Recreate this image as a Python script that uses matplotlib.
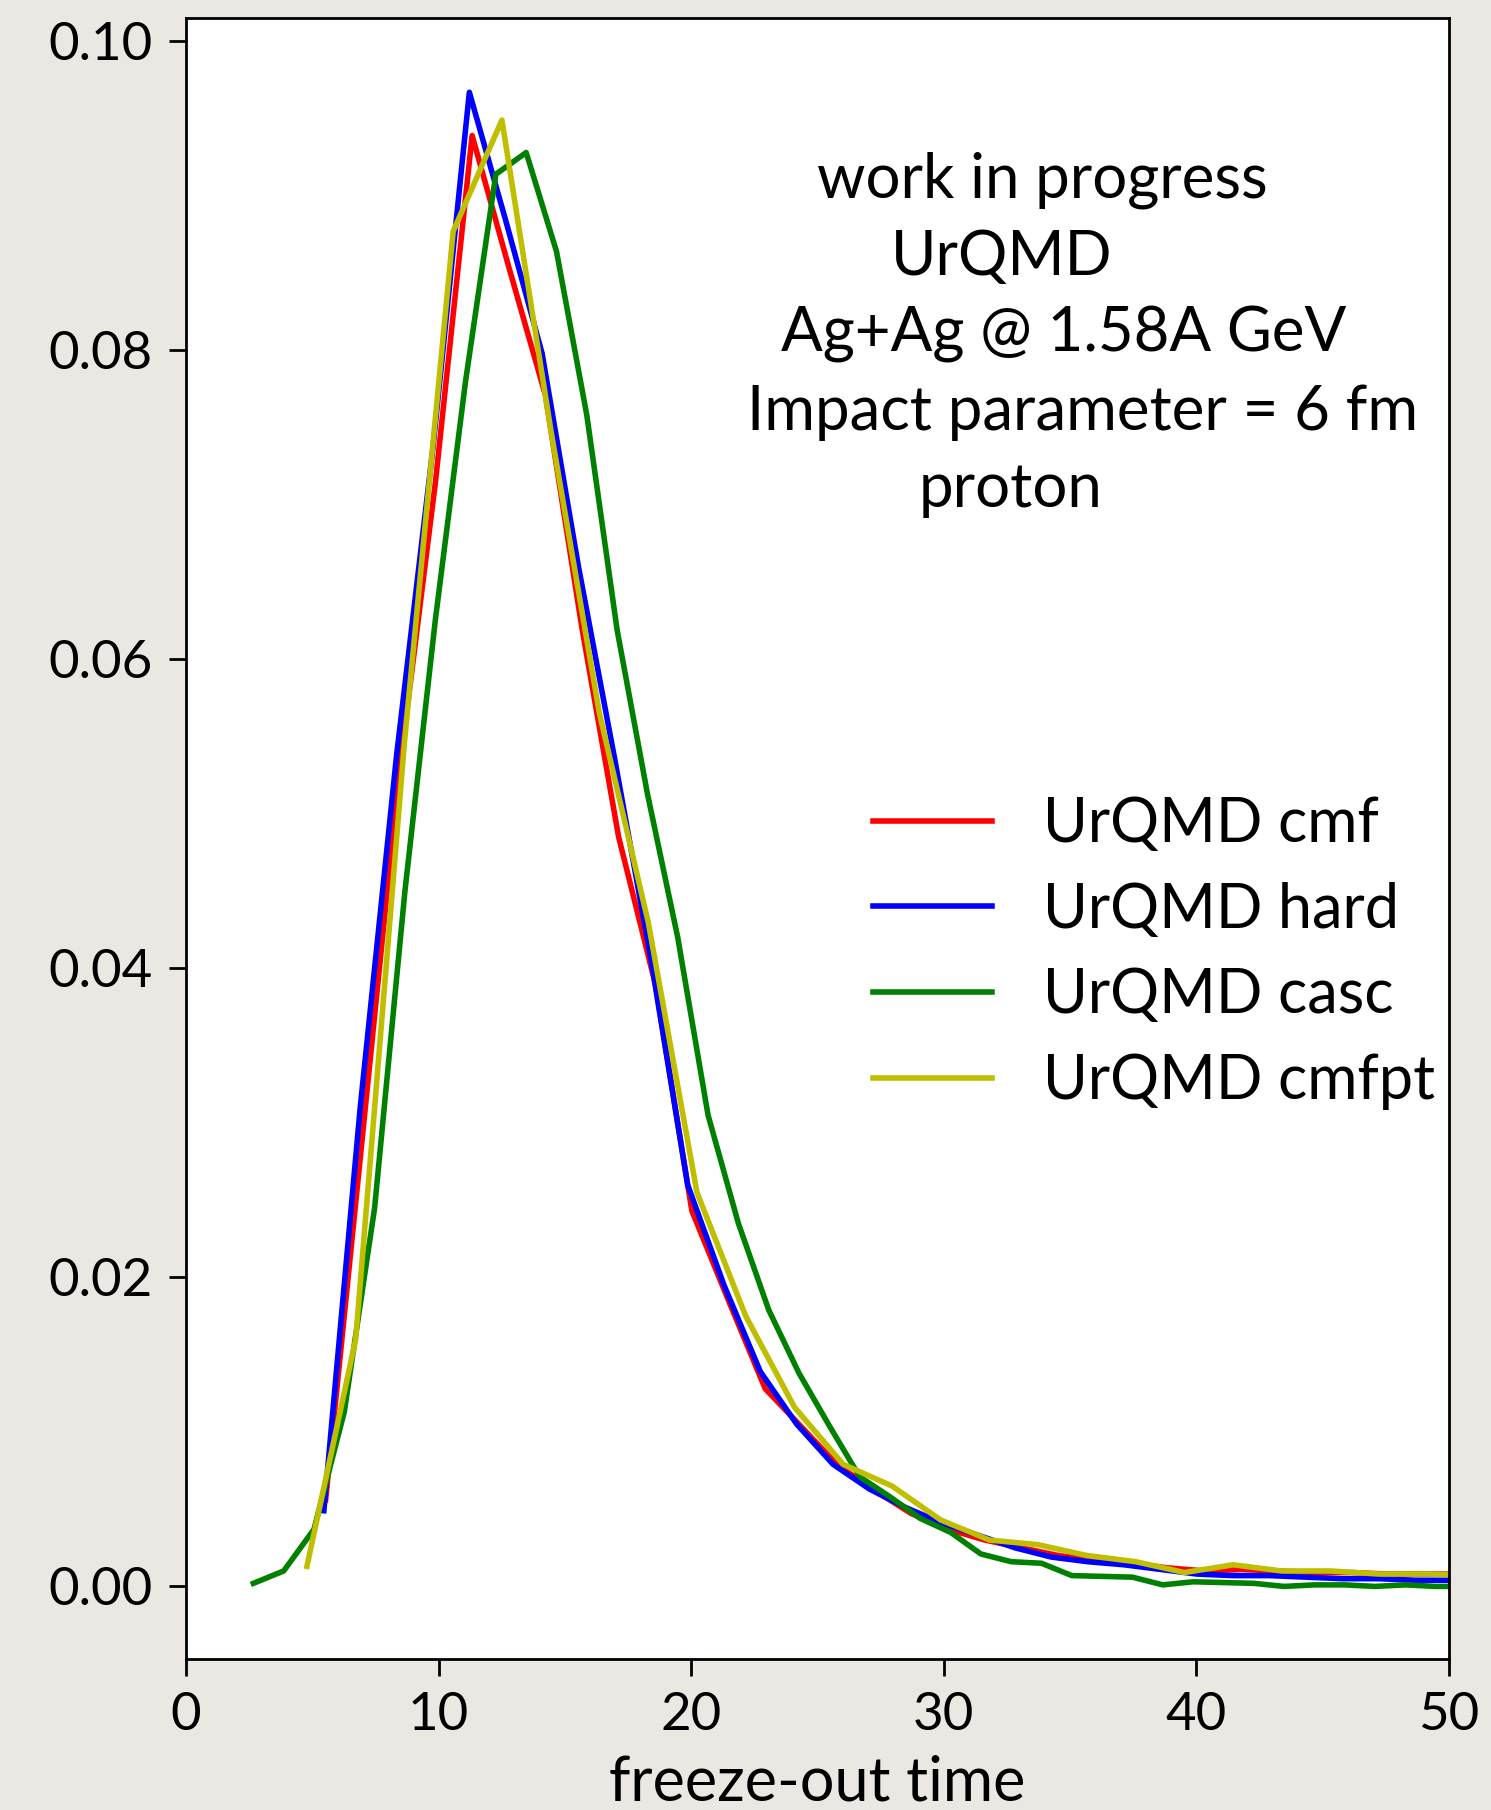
import matplotlib
matplotlib.use("Agg")
import matplotlib.pyplot as plt

plt.rcParams['font.family'] = ['Lato', 'DejaVu Sans']

# freeze-out time distributions
cmf_t = [5.53, 6.98, 8.43, 9.88, 11.33, 12.78, 14.23, 15.68, 17.13, 18.58, 20.03, 21.48,
         22.93, 24.38, 25.83, 27.28, 28.73, 30.18, 31.63, 33.08, 34.53, 35.98, 37.43, 38.88,
         40.33, 41.78, 43.23, 44.68, 46.13, 47.58, 49.03, 50.48]
cmf_y = [0.0056, 0.029, 0.0525, 0.0715, 0.0939, 0.0854, 0.0771, 0.062, 0.0485, 0.039, 0.0243, 0.0185,
         0.0128, 0.0103, 0.0078, 0.0062, 0.0047, 0.0037, 0.0030, 0.0025, 0.0020, 0.0017, 0.0015, 0.0012,
         0.0010, 0.0011, 0.0010, 0.0009, 0.0009, 0.0008, 0.0008, 0.0008]

hard_t = [5.46, 6.90, 8.34, 9.78, 11.22, 12.66, 14.10, 15.54, 16.98, 18.42, 19.86, 21.30,
          22.74, 24.18, 25.62, 27.06, 28.50, 29.94, 31.38, 32.82, 34.26, 35.70, 37.14, 38.58,
          40.02, 41.46, 42.90, 44.34, 45.78, 47.22, 48.66, 50.10]
hard_y = [0.0049, 0.031, 0.0538, 0.0737, 0.0967, 0.0884, 0.0798, 0.066, 0.0535, 0.0405, 0.026, 0.0195,
          0.0139, 0.0105, 0.0079, 0.0063, 0.0051, 0.0041, 0.0033, 0.0025, 0.0019, 0.0016, 0.0014, 0.0011,
          0.0008, 0.0007, 0.0007, 0.0006, 0.0005, 0.0005, 0.0004, 0.0004]

casc_t = [2.67, 3.87, 5.07, 6.27, 7.47, 8.67, 9.87, 11.07, 12.27, 13.47, 14.67, 15.87, 17.07, 18.27,
          19.47, 20.67, 21.87, 23.07, 24.27, 25.47, 26.67, 27.87, 29.07, 30.27, 31.47, 32.67, 33.87,
          35.07, 36.27, 37.47, 38.67, 39.87, 41.07, 42.27, 43.47, 44.67, 45.87, 47.07, 48.27, 49.47, 50.67]
casc_y = [0.0002, 0.0010, 0.0037, 0.0113, 0.0245, 0.045, 0.0625, 0.078, 0.0914, 0.0928, 0.0864, 0.0758,
          0.0619, 0.0513, 0.042, 0.0305, 0.0235, 0.0179, 0.0138, 0.0104, 0.0071, 0.0058, 0.0044, 0.0035,
          0.0021, 0.0016, 0.0015, 0.0007, 0.00065, 0.0006, 0.0001, 0.0003, 0.00025, 0.0002, 0.0, 0.0001,
          0.0001, 0.0, 0.0001, 0.0, 0.0]

cmfpt_t = [4.79, 6.72, 8.65, 10.58, 12.51, 14.44, 16.37, 18.30, 20.23, 22.16, 24.09, 26.02, 27.95,
           29.88, 31.81, 33.74, 35.67, 37.60, 39.53, 41.46, 43.39, 45.32, 47.25, 49.18, 51.11]
cmfpt_y = [0.0013, 0.016, 0.0546, 0.0877, 0.0949, 0.0749, 0.0565, 0.043, 0.0255, 0.0175, 0.0116, 0.0079,
           0.0065, 0.0043, 0.0030, 0.0027, 0.0020, 0.0016, 0.0009, 0.0014, 0.0010, 0.0010, 0.0008, 0.0008,
           0.0007]

labels = ["UrQMD cmf", "UrQMD hard", "UrQMD casc", "UrQMD cmfpt"]
colors = ["r", "b", "g", "y"]

info_lines = ["work in progress", "UrQMD", "Ag+Ag @ 1.58A GeV", "Impact parameter = 6 fm", "proton"]
info_x = [33.9, 32.3, 34.75, 35.5, 32.65]
info_y = [0.0910, 0.0860, 0.0810, 0.0760, 0.0710]

fig = plt.figure(figsize=(14.91, 18.10), dpi=100, facecolor="#ebe8e3")
ax = fig.add_axes([0.1247, 0.0834, 0.8471, 0.9066])
ax.set_facecolor("white")

series = [(cmf_t, cmf_y), (hard_t, hard_y), (casc_t, casc_y), (cmfpt_t, cmfpt_y)]
for (t, y), lab, c in zip(series, labels, colors):
    ax.plot(t, y, color=c, lw=4, label=lab)

ax.set_xlim(0, 50)
ax.set_ylim(-0.0047, 0.1015)
ax.set_xticks([0, 10, 20, 30, 40, 50])
ax.set_yticks([0.0, 0.02, 0.04, 0.06, 0.08, 0.10])
ax.tick_params(labelsize=38, length=12, width=2, pad=12)
for s in ax.spines.values():
    s.set_linewidth(2)
ax.set_xlabel("freeze-out time", fontsize=44, labelpad=11)

for txt, x, y in zip(info_lines, info_x, info_y):
    ax.text(x, y, txt, fontsize=44.5, ha="center", va="center")

ax.legend(loc="upper left", bbox_to_anchor=(0.544, 0.526), frameon=False, fontsize=44,
          handlelength=1.95, handletextpad=0.83, labelspacing=0.47, borderpad=0, borderaxespad=0)

fig.savefig("out.png", dpi=100, facecolor=fig.get_facecolor())
